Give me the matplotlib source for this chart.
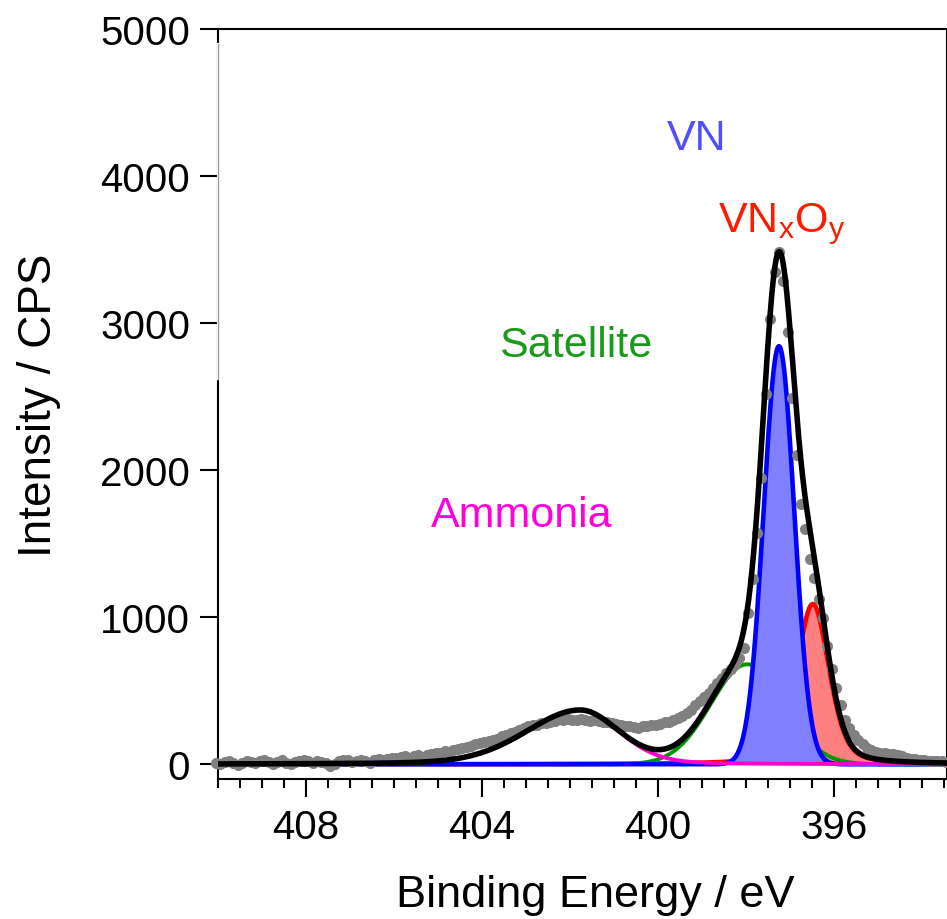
import numpy as np
import matplotlib
matplotlib.use('Agg')
import matplotlib.pyplot as plt
from matplotlib.ticker import MultipleLocator

plt.rcParams['font.family'] = ['Liberation Sans', 'DejaVu Sans']
plt.rcParams['mathtext.fontset'] = 'custom'
plt.rcParams['mathtext.rm'] = 'Liberation Sans'

# measured N 1s spectrum, 0.1 eV steps from 410.05 eV down to 393.45 eV
be_start = 410.05
be_step = 0.1
counts = [
    10, 5, 15, 22, 8, -8, 12, 25, 18, 10,
    22, 30, 15, 5, 18, 28, 12, 2, 18, 25,
    30, 20, 12, 25, 18, 8, -12, 5, 22, 32,
    28, 15, 20, 32, 25, 12, 30, 38, 28, 35,
    45, 40, 48, 58, 45, 55, 62, 52, 60, 70,
    75, 80, 88, 85, 95, 105, 110, 118, 125, 135,
    145, 150, 160, 168, 175, 190, 198, 210, 220, 235,
    250, 258, 265, 270, 278, 282, 290, 295, 305, 300,
    310, 302, 298, 305, 300, 295, 300, 292, 285, 288,
    280, 275, 270, 262, 258, 255, 250, 258, 262, 265,
    270, 275, 285, 290, 300, 315, 330, 350, 372, 400,
    430, 455, 485, 520, 555, 590, 620, 650, 680, 720,
    790, 1032, 1259, 1576, 1950, 2517, 3027, 3345, 3481, 3288,
    2937, 2494, 2100, 1769, 1599, 1395, 1265, 1122, 998, 805,
    646, 521, 400, 300, 245, 200, 165, 135, 112, 95,
    85, 80, 75, 72, 68, 62, 55, 45, 38, 35,
    30, 28, 25, 22, 20, 22, 18,
]

# fitted components
peak_names = ['VN', 'VNxOy', 'Satellite', 'Ammonia']
peak_center = [397.25, 396.48, 397.97, 401.77]
peak_height = [2843, 1090, 680, 367]
fwhm_high_be = [0.82, 0.87, 1.95, 2.9]
fwhm_low_be = [0.82, 0.87, 1.95, 2.1]
gl_mix = [0.0, 0.35, 0.0, 0.2]

line_colors = {'VN': '#0000FF', 'VNxOy': '#FF0000', 'Satellite': '#009600', 'Ammonia': '#FF00CC'}
fill_colors = {'VN': '#8080FF', 'VNxOy': '#FF8080'}


def gl_peak(e, center, height, w_hi, w_lo, mix):
    w = np.where(e >= center, w_hi, w_lo)
    d = e - center
    sigma = w / 2.3548
    gauss = np.exp(-d ** 2 / (2 * sigma ** 2))
    lor = 1.0 / (1.0 + (2 * d / w) ** 2)
    return height * ((1 - mix) * gauss + mix * lor)


energy = np.round(be_start - be_step * np.arange(len(counts)), 2)
e_fine = np.linspace(410.0, 393.4, 3000)

comps = {}
for i, name in enumerate(peak_names):
    comps[name] = gl_peak(e_fine, peak_center[i], peak_height[i],
                          fwhm_high_be[i], fwhm_low_be[i], gl_mix[i])
envelope = sum(comps.values())

fig = plt.figure(figsize=(9.47, 9.2), dpi=100)
ax = fig.add_axes([218 / 947, 1 - 780 / 920, 1 - 218 / 947, 750 / 920])

ax.fill_between(e_fine, 0, comps['VNxOy'], color=fill_colors['VNxOy'], lw=0, zorder=2)
ax.plot(e_fine, comps['VNxOy'], color=line_colors['VNxOy'], lw=3.3, zorder=2.1)
ax.plot(e_fine, comps['Satellite'], color=line_colors['Satellite'], lw=2.8, zorder=2.2)
ax.fill_between(e_fine, 0, comps['VN'], color=fill_colors['VN'], lw=0, zorder=2.3)
ax.plot(e_fine, comps['VN'], color=line_colors['VN'], lw=3.3, zorder=2.4)
ax.plot(energy, counts, 'o', color='#808080', ms=8, mec='none', zorder=3, clip_on=False)
ax.plot(e_fine, comps['Ammonia'], color=line_colors['Ammonia'], lw=2.8, zorder=3.5)
ax.plot(e_fine, envelope, color='black', lw=4.0, zorder=5)

# labels of the components
ax.text(399.11, 4184, 'VN', color='#4F4FFF', fontsize=31, ha='center', va='baseline')
ax.text(398.64, 3626, r'VN$_\mathregular{x}$O$_\mathregular{y}$', color='#FF1A00',
        fontsize=31, ha='left', va='baseline')
ax.text(401.86, 2776, 'Satellite', color='#1A9A1A', fontsize=31, ha='center', va='baseline')
ax.text(403.09, 1619, 'Ammonia', color='#FF00DD', fontsize=31, ha='center', va='baseline')

ax.set_xlim(410.0, 393.43)
ax.set_ylim(-100, 5000)

ax.xaxis.set_major_locator(MultipleLocator(4))
ax.xaxis.set_minor_locator(MultipleLocator(0.5))
ax.yaxis.set_major_locator(MultipleLocator(1000))

ax.tick_params(axis='x', which='major', direction='out', length=13, width=1.5,
               labelsize=29, pad=8, top=False)
ax.tick_params(axis='x', which='minor', direction='out', length=6.5, width=1.5, top=False)
ax.tick_params(axis='y', which='major', direction='out', length=13, width=1.5,
               labelsize=29, pad=7, right=False)

for side in ['left', 'bottom', 'top', 'right']:
    ax.spines[side].set_linewidth(1.5)

# the upper part of the left axis line looks faded in the original
ax.axvline(410.0, ymin=0.533, ymax=0.98, color='white', lw=1.6, zorder=6, clip_on=False)
ax.axvline(410.0, ymin=0.533, ymax=0.98, color='#9A9A9A', lw=0.9, zorder=6.1, clip_on=False)

ax.set_xlabel('Binding Energy / eV', fontsize=32.5)
ax.xaxis.set_label_coords(0.518, -0.127)
ax.set_ylabel('Intensity / CPS', fontsize=33)
ax.yaxis.set_label_coords(-0.215, 0.5)

fig.savefig('out.png', dpi=100)
